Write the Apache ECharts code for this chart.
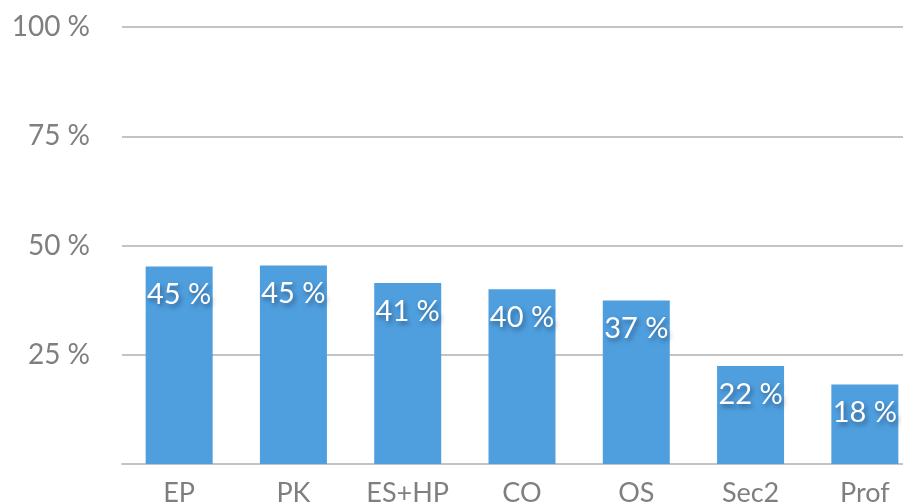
<!DOCTYPE html>
<html>
<head>
<meta charset="utf-8">
<script src="https://cdn.jsdelivr.net/npm/echarts@6/dist/echarts.min.js"></script>
<style>
  html, body { margin: 0; padding: 0; background: #fff; }
  #main { width: 903px; height: 504px; }
</style>
</head>
<body>
<div id="main"></div>
<script>
var categories = ['EP', 'PK', 'ES+HP', 'CO', 'OS', 'Sec2', 'Prof'];
var shares = [45.2, 45.4, 41.4, 40.0, 37.4, 22.4, 18.2];
var yTicks = [0, 25, 50, 75, 100];

var font = 'Lato, "Noto Sans", sans-serif';
var myChart = echarts.init(document.getElementById('main'));

var option = {
    animation: false,
    grid: {
        left: 122,
        top: 27,
        width: 800,
        height: 437,
        outerBoundsMode: 'none',
        containLabel: false
    },
    xAxis: {
        type: 'category',
        data: categories,
        axisLine: { lineStyle: { color: '#c4c4c4', width: 2 } },
        axisTick: { show: false },
        axisLabel: {
            color: '#7f7f7f',
            fontSize: 27,
            fontFamily: font,
            margin: 16
        }
    },
    yAxis: {
        type: 'value',
        min: yTicks[0],
        max: yTicks[yTicks.length - 1],
        interval: 25,
        axisLine: { show: false },
        axisTick: { show: false },
        splitLine: { lineStyle: { color: '#c4c4c4', width: 2 } },
        axisLabel: {
            color: '#7f7f7f',
            fontSize: 28,
            fontFamily: font,
            margin: 32,
            formatter: function (v) {
                return v === 0 ? '' : v + ' %';
            }
        }
    },
    series: [{
        type: 'bar',
        data: shares,
        barWidth: 67,
        itemStyle: { color: '#4f9fdf' },
        label: {
            show: true,
            position: 'insideTop',
            distance: 14,
            color: '#fff',
            fontSize: 29,
            fontFamily: font,
            textShadowColor: 'rgba(30,50,80,0.6)',
            textShadowBlur: 5,
            textShadowOffsetX: 2,
            textShadowOffsetY: 3,
            formatter: function (p) {
                return Math.round(p.value) + ' %';
            }
        }
    }]
};

myChart.setOption(option);
</script>
</body>
</html>
